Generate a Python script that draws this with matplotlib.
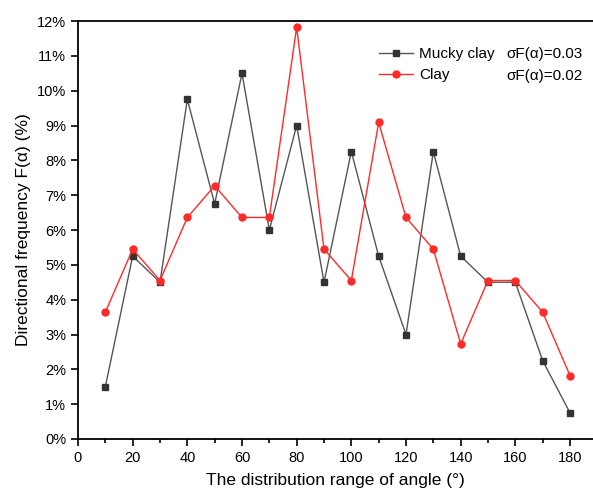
import matplotlib
matplotlib.use("Agg")
import matplotlib.pyplot as plt
from matplotlib.ticker import MultipleLocator, FuncFormatter

plt.rcParams['font.family'] = ['Liberation Sans', 'DejaVu Sans']

angles = [10, 20, 30, 40, 50, 60, 70, 80, 90, 100, 110, 120, 130, 140, 150, 160, 170, 180]
mucky_clay = [1.5, 5.25, 4.5, 9.75, 6.75, 10.5, 6.0, 9.0, 4.5, 8.25, 5.25, 3.0, 8.25, 5.25, 4.5, 4.5, 2.25, 0.75]
clay = [3.64, 5.45, 4.55, 6.36, 7.27, 6.36, 6.36, 11.82, 5.45, 4.55, 9.09, 6.36, 5.45, 2.73, 4.55, 4.55, 3.64, 1.82]
labels = ["Mucky clay", "Clay"]
sigma_labels = ["σF(α)=0.03", "σF(α)=0.02"]

fig = plt.figure(figsize=(5.93, 4.95), dpi=100)
ax = fig.add_axes([78/593, 56/495, 1 - 78/593, (439-21)/495])

ax.plot(angles, mucky_clay, color='#555555', lw=1.0, marker='s', ms=5,
        mfc='#333333', mec='#333333', label=labels[0])
ax.plot(angles, clay, color='#ff2a2a', lw=1.0, marker='o', ms=5,
        mfc='#ff2a2a', mec='#ff2a2a', label=labels[1])

ax.set_xlim(0, (593-78)/(492/180))
ax.set_ylim(0, 12)
ax.xaxis.set_major_locator(MultipleLocator(20))
ax.xaxis.set_minor_locator(MultipleLocator(10))
ax.yaxis.set_major_locator(MultipleLocator(1))
ax.yaxis.set_major_formatter(FuncFormatter(lambda v, p: f"{int(round(v))}%"))
ax.tick_params(axis='both', which='both', direction='out', labelsize=10.5, width=1.2)
ax.tick_params(axis='both', which='major', length=5)
ax.tick_params(axis='x', which='minor', length=3)
ax.spines['right'].set_visible(False)
for s in ['left', 'bottom', 'top']:
    ax.spines[s].set_linewidth(1.3)

ax.set_xlabel("The distribution range of angle (°)", fontsize=12.5, labelpad=6)
ax.set_ylabel("Directional frequency F(α) (%)", fontsize=12.5, labelpad=4)

leg = ax.legend(loc='upper left', bbox_to_anchor=(0.585, 0.937), frameon=False, borderaxespad=0,
                borderpad=0, fontsize=11, handlelength=2.2, handletextpad=0.4, labelspacing=0.45)
ax.text(0.979, 0.921, sigma_labels[0], transform=ax.transAxes, ha='right', va='center', fontsize=11)
ax.text(0.979, 0.869, sigma_labels[1], transform=ax.transAxes, ha='right', va='center', fontsize=11)

fig.savefig("out.png", dpi=100)
